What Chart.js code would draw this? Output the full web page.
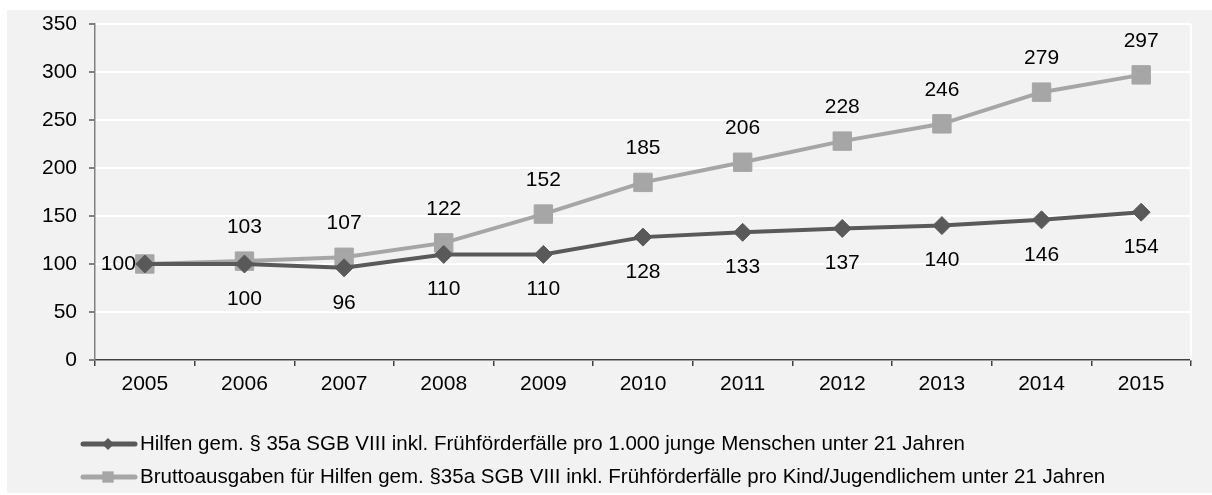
<!DOCTYPE html>
<html>
<head>
<meta charset="utf-8">
<script src="https://cdn.jsdelivr.net/npm/chart.js@4.4.1/dist/chart.umd.min.js"></script>
<style>
  body { margin: 0; background: #fff; }
  #box { position: absolute; left: 7px; top: 10px; width: 1205px; height: 483px; background: #f2f2f2; }
</style>
</head>
<body>
<div id="box"><canvas id="chart" width="1205" height="483"></canvas></div>
<script>
const years = ["2005", "2006", "2007", "2008", "2009", "2010", "2011", "2012", "2013", "2014", "2015"];
const hilfen = [100, 100, 96, 110, 110, 128, 133, 137, 140, 146, 154];
const brutto = [100, 103, 107, 122, 152, 185, 206, 228, 246, 279, 297];
const seriesNames = [
  "Hilfen gem. § 35a SGB VIII inkl. Frühförderfälle pro 1.000 junge Menschen unter 21 Jahren",
  "Bruttoausgaben für Hilfen gem. §35a SGB VIII inkl. Frühförderfälle pro Kind/Jugendlichem unter 21 Jahren"
];

const FONT = '"Liberation Sans", Arial, sans-serif';
const FSIZE = 21;

// value labels: dark series below, light series above
const valueLabels = {
  id: "valueLabels",
  afterDatasetsDraw(chart) {
    const ctx = chart.ctx;
    ctx.save();
    ctx.font = FSIZE + "px " + FONT;
    ctx.fillStyle = "#000";
    ctx.textBaseline = "middle";
    chart.data.datasets.forEach((ds, i) => {
      chart.getDatasetMeta(i).data.forEach((pt, j) => {
        if (j === 0) {
          if (i === 0) {
            ctx.textAlign = "right";
            ctx.fillText(ds.data[j], pt.x - 9, pt.y);
          }
          return;
        }
        ctx.textAlign = "center";
        ctx.fillText(ds.data[j], pt.x, i === 0 ? pt.y + 35 : pt.y - 34);
      });
    });
    ctx.restore();
  }
};

// white edge on the right side of the plot area
const rightEdge = {
  id: "rightEdge",
  beforeDatasetsDraw(chart) {
    const { ctx, chartArea } = chart;
    ctx.save();
    ctx.strokeStyle = "#ffffff";
    ctx.lineWidth = 2;
    ctx.beginPath();
    ctx.moveTo(chartArea.right, chartArea.top);
    ctx.lineTo(chartArea.right, chartArea.bottom);
    ctx.stroke();
    ctx.restore();
  }
};

// legend drawn as line + marker, like the original
const lineLegend = {
  id: "lineLegend",
  afterDraw(chart) {
    const ctx = chart.ctx;
    const rows = [434, 467];
    ctx.save();
    chart.data.datasets.forEach((ds, i) => {
      const y = rows[i];
      ctx.strokeStyle = ds.borderColor;
      ctx.lineWidth = 5;
      ctx.lineCap = "round";
      ctx.beginPath();
      ctx.moveTo(76, y);
      ctx.lineTo(128, y);
      ctx.stroke();
      ctx.fillStyle = ds.borderColor;
      Chart.helpers.drawPoint(ctx, {
        pointStyle: ds.pointStyle,
        radius: ds.pointStyle === "rect" ? 8 : 6,
        rotation: 0,
        borderWidth: 0
      }, 101, y);
      ctx.fillStyle = "#000";
      ctx.font = (FSIZE - 0.5) + "px " + FONT;
      ctx.textAlign = "left";
      ctx.textBaseline = "middle";
      ctx.fillText(seriesNames[i], 133, y);
    });
    ctx.restore();
  }
};

new Chart(document.getElementById("chart"), {
  type: "line",
  data: {
    labels: years,
    datasets: [
      {
        label: seriesNames[0],
        data: hilfen,
        borderColor: "#595959",
        backgroundColor: "#595959",
        borderWidth: 4,
        pointStyle: "rectRot",
        pointRadius: 9,
        pointBorderWidth: 1,
        tension: 0
      },
      {
        label: seriesNames[1],
        data: brutto,
        borderColor: "#a6a6a6",
        backgroundColor: "#a6a6a6",
        borderWidth: 4,
        pointStyle: "rect",
        pointRadius: 13,
        pointBorderWidth: 1,
        tension: 0
      }
    ]
  },
  options: {
    responsive: false,
    animation: false,
    layout: { padding: { top: 0, right: 21, left: 0, bottom: 0 } },
    plugins: {
      legend: { display: false },
      tooltip: { enabled: false }
    },
    scales: {
      x: {
        offset: true,
        afterFit: (s) => { s.height = 133; },
        grid: {
          offset: true,
          drawOnChartArea: false,
          tickLength: 6,
          tickColor: "#404040",
          lineWidth: 1.5
        },
        border: { color: "#404040", width: 1.5 },
        ticks: { color: "#000", font: { family: FONT, size: FSIZE }, padding: 6, maxRotation: 0 }
      },
      y: {
        min: 0,
        max: 350,
        afterFit: (s) => { s.width = 88; s.paddingTop = 13; s.paddingBottom = 0; },
        ticks: { stepSize: 50, color: "#000", font: { family: FONT, size: FSIZE }, padding: 12 },
        grid: { color: "#ffffff", lineWidth: 2, tickLength: 6, tickColor: "#808080" },
        border: { color: "#808080", width: 1.5 }
      }
    }
  },
  plugins: [rightEdge, valueLabels, lineLegend]
});
</script>
</body>
</html>
